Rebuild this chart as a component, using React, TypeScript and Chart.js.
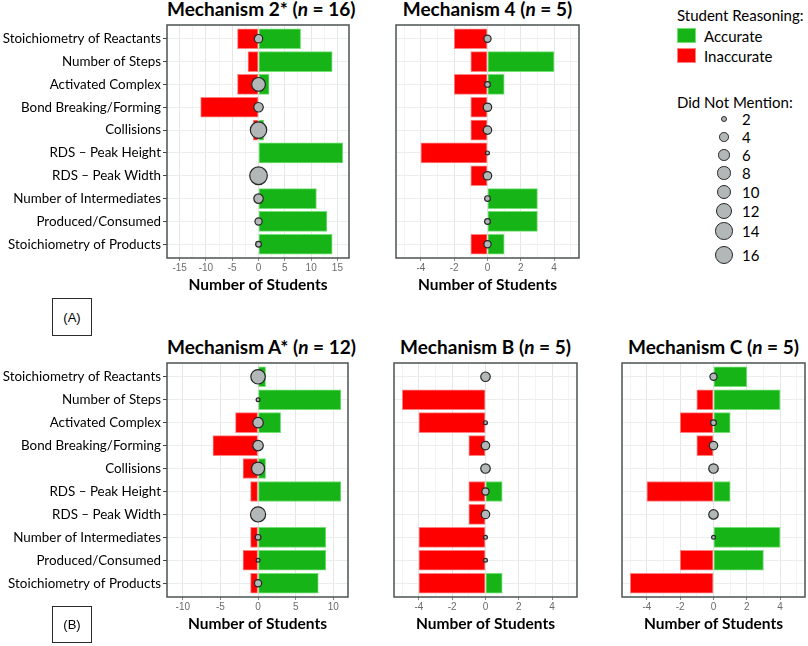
import React, { useEffect, useRef } from 'react';
import { Chart, registerables } from 'chart.js';

Chart.register(...registerables);

// ---------------- data ----------------
const categories = [
  'Stoichiometry of Reactants',
  'Number of Steps',
  'Activated Complex',
  'Bond Breaking/Forming',
  'Collisions',
  'RDS – Peak Height',
  'RDS – Peak Width',
  'Number of Intermediates',
  'Produced/Consumed',
  'Stoichiometry of Products',
];

const mech2Accurate = [8, 14, 2, 0, 1, 16, 0, 11, 13, 14];
const mech2Inaccurate = [-4, -2, -4, -11, -1, 0, 0, 0, 0, 0];
const mech2NotMentioned = [4, 0, 10, 5, 14, 0, 16, 5, 3, 2];

const mech4Accurate = [0, 4, 1, 0, 0, 0, 0, 3, 3, 1];
const mech4Inaccurate = [-2, -1, -2, -1, -1, -4, -1, 0, 0, -1];
const mech4NotMentioned = [3, 0, 2, 4, 4, 1, 4, 2, 2, 3];

const mechAAccurate = [1, 11, 3, 0, 1, 11, 0, 9, 9, 8];
const mechAInaccurate = [0, 0, -3, -6, -2, -1, 0, -1, -2, -1];
const mechANotMentioned = [11, 1, 6, 6, 9, 0, 12, 2, 1, 3];

const mechBAccurate = [0, 0, 0, 0, 0, 1, 0, 0, 0, 1];
const mechBInaccurate = [0, -5, -4, -1, 0, -1, -1, -4, -4, -4];
const mechBNotMentioned = [5, 0, 1, 4, 5, 3, 4, 1, 1, 0];

const mechCAccurate = [2, 4, 1, 0, 0, 1, 0, 4, 3, 0];
const mechCInaccurate = [0, -1, -2, -1, 0, -4, 0, 0, -2, -5];
const mechCNotMentioned = [3, 0, 2, 4, 5, 0, 5, 1, 0, 0];

const ticks16 = [-15, -10, -5, 0, 5, 10, 15];
const ticks12 = [-10, -5, 0, 5, 10];
const ticks5 = [-4, -2, 0, 2, 4];

const legendSizes = [2, 4, 6, 8, 10, 12, 14, 16];

// ---------------- style ----------------
const GREEN = '#17b417';
const GREEN_EDGE = '#72e072';
const RED = '#ff0000';
const RED_EDGE = '#ff8080';
const CIRCLE_FILL = '#b2b7b7';
const CIRCLE_EDGE = '#262626';
const FRAME = '#4b5252';
const LABEL_FONT = 'Lato, "Open Sans", sans-serif';
const TICK_FONT = '"Liberation Sans", Arial, sans-serif';

const radiusFor = (v: number) => 2.3 * Math.sqrt(v) - 0.4;

type Spec = {
  key: string;
  titleMain: string;
  titleN: string;
  accurate: number[];
  inaccurate: number[];
  notMentioned: number[];
  ticks: number[];
  minorStep: number;
  xmin: number;
  xmax: number;
  plot: { left: number; right: number; top: number; bottom: number };
  showLabels: boolean;
};

const specs: Spec[] = [
  {
    key: 'm2', titleMain: 'Mechanism 2* (', titleN: ' = 16)',
    accurate: mech2Accurate, inaccurate: mech2Inaccurate, notMentioned: mech2NotMentioned,
    ticks: ticks16, minorStep: 2.5, xmin: -17.4, xmax: 17.2,
    plot: { left: 167, right: 349, top: 25, bottom: 258 }, showLabels: true,
  },
  {
    key: 'm4', titleMain: 'Mechanism 4 (', titleN: ' = 5)',
    accurate: mech4Accurate, inaccurate: mech4Inaccurate, notMentioned: mech4NotMentioned,
    ticks: ticks5, minorStep: 1, xmin: -5.5, xmax: 5.5,
    plot: { left: 396, right: 579, top: 25, bottom: 258 }, showLabels: false,
  },
  {
    key: 'mA', titleMain: 'Mechanism A* (', titleN: ' = 12)',
    accurate: mechAAccurate, inaccurate: mechAInaccurate, notMentioned: mechANotMentioned,
    ticks: ticks12, minorStep: 2.5, xmin: -12.1, xmax: 11.95,
    plot: { left: 167, right: 348, top: 363, bottom: 597 }, showLabels: true,
  },
  {
    key: 'mB', titleMain: 'Mechanism B (', titleN: ' = 5)',
    accurate: mechBAccurate, inaccurate: mechBInaccurate, notMentioned: mechBNotMentioned,
    ticks: ticks5, minorStep: 1, xmin: -5.5, xmax: 5.5,
    plot: { left: 394, right: 577, top: 363, bottom: 597 }, showLabels: false,
  },
  {
    key: 'mC', titleMain: 'Mechanism C (', titleN: ' = 5)',
    accurate: mechCAccurate, inaccurate: mechCInaccurate, notMentioned: mechCNotMentioned,
    ticks: ticks5, minorStep: 1, xmin: -5.5, xmax: 5.5,
    plot: { left: 622, right: 805, top: 363, bottom: 597 }, showLabels: false,
  },
];

const PAD = 3;
const XAXIS_H = 40;

function geometry(s: Spec) {
  const left = s.showLabels ? 0 : s.plot.left - PAD;
  const top = s.plot.top - PAD;
  const right = s.plot.right + PAD;
  const bottom = s.plot.bottom + XAXIS_H;
  return { left, top, width: right - left, height: bottom - top };
}

const framePlugin = {
  id: 'panelFrame',
  afterDatasetsDraw(chart: any) {
    const { ctx, chartArea: a } = chart;
    ctx.save();
    ctx.strokeStyle = FRAME;
    ctx.lineWidth = 1.5;
    ctx.strokeRect(a.left, a.top, a.right - a.left, a.bottom - a.top);
    ctx.restore();
  },
};

function Panel({ spec }: { spec: Spec }) {
  const ref = useRef<HTMLCanvasElement | null>(null);
  const g = geometry(spec);

  useEffect(() => {
    if (!ref.current) return;
    const allTicks: number[] = [];
    const start = Math.ceil(spec.xmin / spec.minorStep) * spec.minorStep;
    for (let v = start; v <= spec.xmax + 1e-9; v += spec.minorStep) {
      allTicks.push(Math.round(v * 100) / 100);
    }
    const isMajor = (v: number) => spec.ticks.includes(v);

    const accData = spec.accurate
      .map((v, i) => ({ x: v, y: i }))
      .filter((d) => d.x !== 0);
    const inaccData = spec.inaccurate
      .map((v, i) => ({ x: v, y: i }))
      .filter((d) => d.x !== 0);
    const nmData = spec.notMentioned
      .map((v, i) => ({ x: 0, y: i, r: radiusFor(v) }))
      .filter((d, i) => spec.notMentioned[i] > 0);

    const chart = new Chart(ref.current, {
      type: 'bar',
      data: {
        datasets: [
          {
            type: 'bubble',
            label: 'Did Not Mention',
            data: nmData,
            backgroundColor: CIRCLE_FILL,
            borderColor: CIRCLE_EDGE,
            borderWidth: 1.2,
            clip: false,
            order: 0,
          } as any,
          {
            type: 'bar',
            label: 'Accurate',
            indexAxis: 'y',
            data: accData,
            backgroundColor: GREEN,
            borderColor: GREEN_EDGE,
            borderWidth: 1,
            borderSkipped: false,
            grouped: false,
            barThickness: 20,
            order: 1,
          } as any,
          {
            type: 'bar',
            label: 'Inaccurate',
            indexAxis: 'y',
            data: inaccData,
            backgroundColor: RED,
            borderColor: RED_EDGE,
            borderWidth: 1,
            borderSkipped: false,
            grouped: false,
            barThickness: 20,
            order: 1,
          } as any,
        ],
      },
      options: {
        responsive: false,
        animation: false,
        devicePixelRatio: 1,
        events: [],
        layout: {
          autoPadding: false,
          padding: { left: spec.showLabels ? 0 : PAD, right: PAD, top: PAD, bottom: 0 },
        },
        plugins: {
          legend: { display: false },
          tooltip: { enabled: false },
          title: { display: false },
        },
        scales: {
          x: {
            type: 'linear',
            offset: false,
            min: spec.xmin,
            max: spec.xmax,
            afterBuildTicks: (s: any) => {
              s.ticks = allTicks.map((v) => ({ value: v }));
            },
            afterFit: (s: any) => {
              s.height = XAXIS_H;
              s.paddingLeft = 0;
              s.paddingRight = 0;
              s.paddingTop = 0;
              s.paddingBottom = 0;
            },
            ticks: {
              autoSkip: false,
              maxRotation: 0,
              padding: 1,
              color: '#6b6b6b',
              font: { family: TICK_FONT, size: 10 },
              callback: (v: any) => (isMajor(Number(v)) ? String(v) : ''),
            },
            grid: {
              offset: false,
              color: (c: any) => (c.tick && isMajor(c.tick.value) ? '#e4e7e7' : '#f2f4f4'),
              tickColor: (c: any) => (c.tick && isMajor(c.tick.value) ? '#8a8a8a' : 'rgba(0,0,0,0)'),
              tickLength: 3,
              lineWidth: 1,
            },
            border: { display: false },
            title: {
              display: true,
              text: 'Number of Students',
              color: '#000',
              font: { family: LABEL_FONT, size: 15.5, weight: 'bold' },
              padding: { top: 0, bottom: 4 },
            },
          },
          y: {
            type: 'linear',
            offset: false,
            reverse: true,
            min: -0.6,
            max: 9.6,
            afterBuildTicks: (s: any) => {
              s.ticks = categories.map((_, i) => ({ value: i }));
            },
            afterFit: (s: any) => {
              s.width = spec.showLabels ? spec.plot.left - g.left : 0;
              s.paddingLeft = 0;
              s.paddingRight = 0;
              s.paddingTop = 0;
              s.paddingBottom = 0;
            },
            ticks: {
              display: spec.showLabels,
              autoSkip: false,
              padding: 2,
              color: '#000',
              font: { family: LABEL_FONT, size: 13.4 },
              callback: (v: any) => categories[Number(v)] ?? '',
            },
            grid: {
              offset: false,
              color: '#eceeee',
              drawTicks: spec.showLabels,
              tickLength: 4,
              tickColor: '#444',
            },
            border: { display: false },
          },
        },
      } as any,
      plugins: [framePlugin],
    });
    return () => chart.destroy();
  }, []);

  return (
    <>
      <div
        style={{
          position: 'absolute',
          left: spec.plot.left,
          width: spec.plot.right - spec.plot.left,
          top: spec.plot.top - 28,
          height: 24,
          lineHeight: '24px',
          textAlign: 'center',
          fontFamily: LABEL_FONT,
          fontWeight: 'bold',
          fontSize: 19,
          color: '#000',
          whiteSpace: 'nowrap',
        }}
      >
        {spec.titleMain}
        <i>n</i>
        {spec.titleN}
      </div>
      <canvas
        ref={ref}
        width={g.width}
        height={g.height}
        style={{ position: 'absolute', left: g.left, top: g.top, width: g.width, height: g.height }}
      />
    </>
  );
}

function Legend() {
  const rowY = [119, 137, 155, 173, 192, 211, 231, 255];
  const textStyle: React.CSSProperties = {
    position: 'absolute',
    fontFamily: LABEL_FONT,
    fontSize: 15,
    color: '#000',
    whiteSpace: 'nowrap',
    lineHeight: '18px',
  };
  return (
    <>
      <div style={{ ...textStyle, left: 677, top: 6 }}>Student Reasoning:</div>
      <div style={{ position: 'absolute', left: 677, top: 28, width: 19, height: 15, background: GREEN, boxSizing: 'border-box', border: `1px solid ${GREEN_EDGE}` }} />
      <div style={{ ...textStyle, left: 704, top: 27 }}>Accurate</div>
      <div style={{ position: 'absolute', left: 677, top: 48, width: 19, height: 15, background: RED, boxSizing: 'border-box', border: `1px solid ${RED_EDGE}` }} />
      <div style={{ ...textStyle, left: 704, top: 47 }}>Inaccurate</div>
      <div style={{ ...textStyle, left: 677, top: 93 }}>Did Not Mention:</div>
      {legendSizes.map((v, i) => {
        const r = radiusFor(v) + 0.6;
        return (
          <React.Fragment key={v}>
            <div
              style={{
                position: 'absolute',
                left: 724 - r,
                top: rowY[i] - r,
                width: 2 * r,
                height: 2 * r,
                borderRadius: '50%',
                background: CIRCLE_FILL,
                boxSizing: 'border-box',
                border: `1.2px solid ${CIRCLE_EDGE}`,
              }}
            />
            <div style={{ ...textStyle, left: 742, top: rowY[i] - 9 }}>{v}</div>
          </React.Fragment>
        );
      })}
    </>
  );
}

function PartBox({ label, top, height }: { label: string; top: number; height: number }) {
  return (
    <div
      style={{
        position: 'absolute',
        left: 52,
        top,
        width: 40,
        height,
        boxSizing: 'border-box',
        border: '1.5px solid #2b2b2b',
        display: 'flex',
        alignItems: 'center',
        justifyContent: 'center',
        fontFamily: TICK_FONT,
        fontSize: 13,
        color: '#000',
      }}
    >
      {label}
    </div>
  );
}

export default function App() {
  return (
    <div
      style={{
        position: 'absolute',
        left: 0,
        top: 0,
        width: 808,
        height: 646,
        background: '#fff',
        overflow: 'hidden',
      }}
    >
      {specs.map((s) => (
        <Panel key={s.key} spec={s} />
      ))}
      <Legend />
      <PartBox label="(A)" top={298} height={38} />
      <PartBox label="(B)" top={606} height={37} />
    </div>
  );
}
